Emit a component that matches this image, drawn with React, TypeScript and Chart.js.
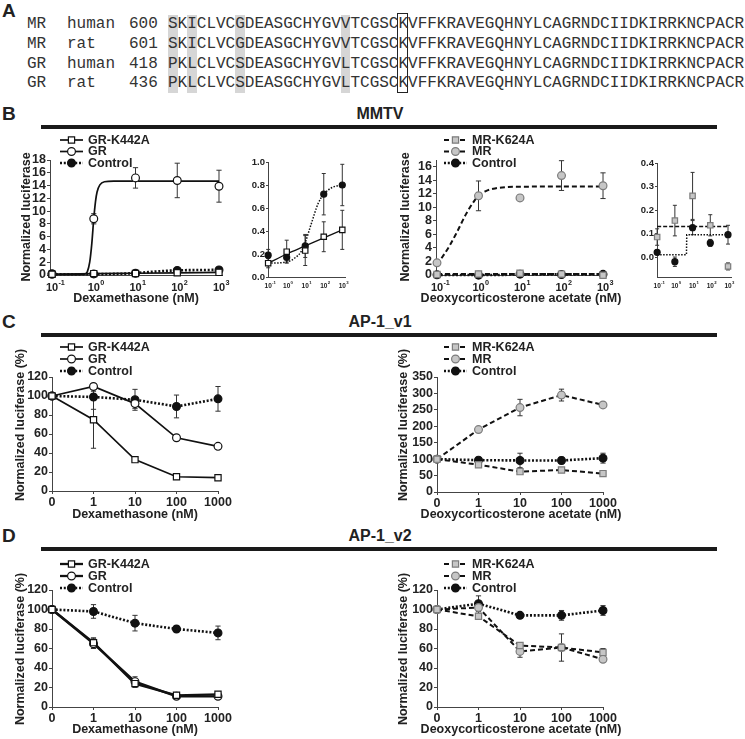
import React, { useEffect, useRef } from "react";
import { Chart, registerables } from "chart.js";
Chart.register(...registerables);

const W = 745;
const H = 739;
const SANS = "'Liberation Sans', Arial, Helvetica, sans-serif";
const MONO = "'Liberation Mono', 'Courier New', monospace";
const INK = "#222";

// ---------------- Panel A (sequence alignment) ----------------
const seqNames = ["MR", "MR", "GR", "GR"];
const seqSpecies = ["human", "rat", "human", "rat"];
const seqStarts = ["600", "601", "418", "436"];
const seqs = [
  "SKICLVCGDEASGCHYGVVTCGSCKVFFKRAVEGQHNYLCAGRNDCIIDKIRRKNCPACR",
  "SKICLVCGDEASGCHYGVVTCGSCKVFFKRAVEGQHNYLCAGRNDCIIDKIRRKNCPACR",
  "PKLCLVCSDEASGCHYGVLTCGSCKVFFKRAVEGQHNYLCAGRNDCIIDKIRRKNCPACR",
  "PKLCLVCSDEASGCHYGVLTCGSCKVFFKRAVEGQHNYLCAGRNDCIIDKIRRKNCPACR",
];
const shadedCols = [0, 2, 7, 18];
const boxedCol = 24;

// ---------------- Panel B (MMTV) ----------------
const bDoses = [0.1, 1, 10, 100, 1000];
const bLogExps = [-1, 0, 1, 2, 3];
const bGrK442A = [0.12, 0.22, 0.23, 0.35, 0.41];
const bGrK442AErr = [0.04, 0.1, 0.13, 0.13, 0.17];
const bGr = [0.1, 8.8, 15.2, 14.8, 13.9];
const bGrErr = [0.05, 0.8, 1.6, 2.7, 2.5];
const bGrCtrl = [0.19, 0.17, 0.27, 0.72, 0.8];
const bGrCtrlErr = [0.05, 0.04, 0.1, 0.18, 0.18];
// fitted curves
const bGrFitX = [0.1, 0.6, 0.7, 0.8, 0.9, 1.0, 1.1, 1.2, 1.4, 1.8, 3, 10, 100, 1000];
const bGrFitY = [0.1, 0.15, 0.5, 2, 5, 8.8, 11.5, 13, 14.1, 14.6, 14.7, 14.7, 14.7, 14.7];
const bGrK442AFitX = [0.1, 1, 10, 100, 1000];
const bGrK442AFitY = [0.12, 0.2, 0.27, 0.34, 0.41];
const bGrCtrlFitX = [0.1, 1, 3, 6, 10, 20, 50, 100, 300, 1000];
const bGrCtrlFitY = [0.12, 0.13, 0.17, 0.22, 0.3, 0.45, 0.64, 0.72, 0.78, 0.8];

const bMrK624A = [0.085, 0.155, 0.26, 0.135, -0.04];
const bMrK624AErr = [0.035, 0.065, 0.1, 0.045, 0.015];
const bMr = [1.8, 11.7, 11.4, 14.7, 13.2];
const bMrErr = [0.3, 2.2, 0.4, 2.2, 1.9];
const bMrCtrl = [0.02, -0.02, 0.125, 0.06, 0.095];
const bMrCtrlErr = [0.01, 0.02, 0.03, 0.015, 0.04];
const bMrFitX = [0.1, 0.2, 0.3, 0.5, 0.8, 1, 1.5, 2.5, 5, 10, 1000];
const bMrFitY = [1.5, 4.3, 6.3, 9, 11, 11.7, 12.4, 12.8, 13.0, 13.05, 13.1];
const bMrK624AFitX = [0.1, 1000];
const bMrK624AFitY = [0.13, 0.13];
const bMrCtrlFitX = [0.1, 4.5, 4.7, 1000];
const bMrCtrlFitY = [0.01, 0.01, 0.095, 0.095];

// ---------------- Panels C and D (AP-1) ----------------
const cdDoseLabels = ["0", "1", "10", "100", "1000"];
const c1GrK442A = [100, 75, 33, 15, 14];
const c1GrK442AErr = [0, 30, 2, 2, 1];
const c1Gr = [100, 110, 92, 56, 47];
const c1GrErr = [0, 3, 5, 2, 2];
const c1GrCtrl = [100, 99, 96, 89, 97];
const c1GrCtrlErr = [0, 13, 11, 12, 13];
const c1MrK624A = [100, 83, 62, 67, 56];
const c1MrK624AErr = [0, 4, 5, 4, 3];
const c1Mr = [100, 190, 257, 295, 265];
const c1MrErr = [0, 5, 25, 18, 5];
const c1MrCtrl = [100, 97, 96, 96, 103];
const c1MrCtrlErr = [0, 6, 22, 10, 15];

const c2GrK442A = [100, 66, 24, 12, 13];
const c2GrK442AErr = [0, 5, 4, 2, 2];
const c2Gr = [100, 65, 26, 11, 11];
const c2GrErr = [0, 5, 5, 2, 2];
const c2GrCtrl = [100, 98, 86, 80, 76];
const c2GrCtrlErr = [0, 7, 8, 2, 7];
const c2MrK624A = [100, 93, 63, 61, 56];
const c2MrK624AErr = [0, 3, 3, 14, 4];
const c2Mr = [100, 102, 57, 61, 49];
const c2MrErr = [0, 6, 6, 3, 2];
const c2MrCtrl = [100, 106, 94, 94, 99];
const c2MrCtrlErr = [0, 8, 2, 5, 5];

// tick values
const yTicks18 = [0, 2, 4, 6, 8, 10, 12, 14, 16, 18];
const yTicks16 = [0, 2, 4, 6, 8, 10, 12, 14, 16];
const yTicksInsetL = [0, 0.2, 0.4, 0.6, 0.8, 1.0];
const yTicksInsetR = [0, 0.1, 0.2, 0.3, 0.4];
const yTicks120 = [0, 20, 40, 60, 80, 100, 120];
const yTicks350 = [0, 50, 100, 150, 200, 250, 300, 350];

// ---------------- styles ----------------
type LineKind = "solid" | "dash" | "dot";
type Sty = { marker: "square" | "circle"; fill: string; border: string; line: LineKind };
const GRAY = "#c6c6c6";
const GRAYB = "#7c7c7c";
const S_GRK: Sty = { marker: "square", fill: "#fff", border: "#111", line: "solid" };
const S_GR: Sty = { marker: "circle", fill: "#fff", border: "#111", line: "solid" };
const S_CTRL: Sty = { marker: "circle", fill: "#111", border: "#111", line: "dot" };
const S_MRK: Sty = { marker: "square", fill: GRAY, border: GRAYB, line: "dash" };
const S_MR: Sty = { marker: "circle", fill: GRAY, border: GRAYB, line: "dash" };

type SeriesSpec = {
  label: string;
  sty: Sty;
  ys: number[];
  errs: number[];
  fitX?: number[];
  fitY?: number[];
  stepFit?: boolean;
};

type PanelSpec = {
  area: [number, number, number, number];
  xType: "log" | "cat";
  xMin?: number;
  xMax?: number;
  yMin: number;
  yMax: number;
  yTicks: number[];
  yDec: number;
  small: boolean;
  thick?: number;
  series: SeriesSpec[];
  legend?: { x: number; ys: number[] };
  xTitle?: { text: string; x: number; y: number };
  yTitle?: { text: string; x: number; y: number };
  logLabel?: { y: number; fs: number };
};

const lineStyle = (k: LineKind, small: boolean, thick?: number) => {
  if (k === "solid") return { borderDash: [] as number[], borderWidth: thick ?? (small ? 1.3 : 1.7) };
  if (k === "dash") return { borderDash: small ? [4, 2] : [5, 3], borderWidth: small ? 1.6 : 2 };
  return { borderDash: small ? [1.5, 1.5] : [2, 1.8], borderWidth: small ? 1.5 : 2.6 };
};

function drawMarker(ctx: CanvasRenderingContext2D, sty: Sty, x: number, y: number, r: number) {
  ctx.save();
  ctx.setLineDash([]);
  ctx.fillStyle = sty.fill;
  ctx.strokeStyle = sty.border;
  ctx.lineWidth = 1.2;
  ctx.beginPath();
  if (sty.marker === "circle") ctx.arc(x, y, r, 0, Math.PI * 2);
  else {
    const s = r * Math.SQRT1_2;
    ctx.rect(x - s, y - s, 2 * s, 2 * s);
  }
  ctx.fill();
  ctx.stroke();
  ctx.restore();
}

const LEFT_LEG = 60;
const RIGHT_LEG = 444;

const panels: PanelSpec[] = [
  {
    area: [50, 160, 222, 275],
    xType: "log",
    xMin: 0.0895,
    xMax: 1180,
    yMin: 0,
    yMax: 18,
    yTicks: yTicks18,
    yDec: 0,
    small: false,
    series: [
      { label: "GR-K442A", sty: S_GRK, ys: bGrK442A, errs: bGrK442AErr, fitX: bGrK442AFitX, fitY: bGrK442AFitY },
      { label: "GR", sty: S_GR, ys: bGr, errs: bGrErr, fitX: bGrFitX, fitY: bGrFitY },
      { label: "Control", sty: S_CTRL, ys: bGrCtrl, errs: bGrCtrlErr, fitX: bGrCtrlFitX, fitY: bGrCtrlFitY },
    ],
    legend: { x: LEFT_LEG, ys: [140, 151.5, 163] },
    xTitle: { text: "Dexamethasone (nM)", x: 136, y: 299 },
    yTitle: { text: "Normalized luciferase", x: 27, y: 217 },
    logLabel: { y: 288, fs: 11 },
  },
  {
    area: [268, 162, 345, 277],
    xType: "log",
    xMin: 0.098,
    xMax: 1400,
    yMin: 0,
    yMax: 1.0,
    yTicks: yTicksInsetL,
    yDec: 1,
    small: true,
    series: [
      { label: "GR-K442A", sty: S_GRK, ys: bGrK442A, errs: bGrK442AErr, fitX: bGrK442AFitX, fitY: bGrK442AFitY },
      { label: "Control", sty: S_CTRL, ys: bGrCtrl, errs: bGrCtrlErr, fitX: bGrCtrlFitX, fitY: bGrCtrlFitY },
    ],
    logLabel: { y: 286, fs: 6.5 },
  },
  {
    area: [436, 160, 606, 275],
    xType: "log",
    xMin: 0.0946,
    xMax: 1180,
    yMin: 0,
    yMax: 17,
    yTicks: yTicks16,
    yDec: 0,
    small: false,
    series: [
      { label: "MR-K624A", sty: S_MRK, ys: bMrK624A, errs: bMrK624AErr, fitX: bMrK624AFitX, fitY: bMrK624AFitY },
      { label: "MR", sty: S_MR, ys: bMr, errs: bMrErr, fitX: bMrFitX, fitY: bMrFitY },
      { label: "Control", sty: S_CTRL, ys: bMrCtrl, errs: bMrCtrlErr, fitX: bMrCtrlFitX, fitY: bMrCtrlFitY, stepFit: true },
    ],
    legend: { x: RIGHT_LEG, ys: [140, 151.5, 163] },
    xTitle: { text: "Deoxycorticosterone acetate (nM)", x: 521, y: 299 },
    yTitle: { text: "Normalized luciferase", x: 406, y: 217 },
    logLabel: { y: 288, fs: 11 },
  },
  {
    area: [657, 163, 731, 277],
    xType: "log",
    xMin: 0.098,
    xMax: 1475,
    yMin: -0.085,
    yMax: 0.4,
    yTicks: yTicksInsetR,
    yDec: 1,
    small: true,
    series: [
      { label: "MR-K624A", sty: S_MRK, ys: bMrK624A, errs: bMrK624AErr, fitX: bMrK624AFitX, fitY: bMrK624AFitY },
      { label: "Control", sty: S_CTRL, ys: bMrCtrl, errs: bMrCtrlErr, fitX: bMrCtrlFitX, fitY: bMrCtrlFitY, stepFit: true },
    ],
    logLabel: { y: 286, fs: 6.5 },
  },
  {
    area: [52, 377, 218, 491],
    xType: "cat",
    yMin: 0,
    yMax: 120,
    yTicks: yTicks120,
    yDec: 0,
    small: false,
    series: [
      { label: "GR-K442A", sty: S_GRK, ys: c1GrK442A, errs: c1GrK442AErr },
      { label: "GR", sty: S_GR, ys: c1Gr, errs: c1GrErr },
      { label: "Control", sty: S_CTRL, ys: c1GrCtrl, errs: c1GrCtrlErr },
    ],
    legend: { x: LEFT_LEG, ys: [347, 359, 371] },
    xTitle: { text: "Dexamethasone (nM)", x: 135, y: 515 },
    yTitle: { text: "Normalized luciferase (%)", x: 21, y: 425 },
  },
  {
    area: [437, 377, 603, 492],
    xType: "cat",
    yMin: 0,
    yMax: 350,
    yTicks: yTicks350,
    yDec: 0,
    small: false,
    series: [
      { label: "MR-K624A", sty: S_MRK, ys: c1MrK624A, errs: c1MrK624AErr },
      { label: "MR", sty: S_MR, ys: c1Mr, errs: c1MrErr },
      { label: "Control", sty: S_CTRL, ys: c1MrCtrl, errs: c1MrCtrlErr },
    ],
    legend: { x: RIGHT_LEG, ys: [347, 359, 371] },
    xTitle: { text: "Deoxycorticosterone acetate (nM)", x: 521, y: 515 },
    yTitle: { text: "Normalized luciferase (%)", x: 404, y: 425 },
  },
  {
    area: [52, 590, 218, 707],
    xType: "cat",
    yMin: 0,
    yMax: 120,
    yTicks: yTicks120,
    yDec: 0,
    small: false,
    thick: 2.3,
    series: [
      { label: "GR-K442A", sty: S_GRK, ys: c2GrK442A, errs: c2GrK442AErr },
      { label: "GR", sty: S_GR, ys: c2Gr, errs: c2GrErr },
      { label: "Control", sty: S_CTRL, ys: c2GrCtrl, errs: c2GrCtrlErr },
    ],
    legend: { x: LEFT_LEG, ys: [564, 576, 588] },
    xTitle: { text: "Dexamethasone (nM)", x: 135, y: 730 },
    yTitle: { text: "Normalized luciferase (%)", x: 21, y: 649 },
  },
  {
    area: [437, 590, 603, 707],
    xType: "cat",
    yMin: 0,
    yMax: 120,
    yTicks: yTicks120,
    yDec: 0,
    small: false,
    series: [
      { label: "MR-K624A", sty: S_MRK, ys: c2MrK624A, errs: c2MrK624AErr },
      { label: "MR", sty: S_MR, ys: c2Mr, errs: c2MrErr },
      { label: "Control", sty: S_CTRL, ys: c2MrCtrl, errs: c2MrCtrlErr },
    ],
    legend: { x: RIGHT_LEG, ys: [564, 576, 588] },
    xTitle: { text: "Deoxycorticosterone acetate (nM)", x: 521, y: 730 },
    yTitle: { text: "Normalized luciferase (%)", x: 404, y: 649 },
  },
];

function markerRadius(sty: Sty, small: boolean) {
  if (sty.marker === "square") return small ? 3.8 : 4.4;
  return small ? 3.0 : 3.9;
}

function overlayPlugin(spec: PanelSpec, id: number) {
  return {
    id: "overlay" + id,
    beforeDatasetsDraw(chart: any) {
      const ctx: CanvasRenderingContext2D = chart.ctx;
      const ys = chart.scales.y;
      const cap = spec.small ? 2 : 2.6;
      ctx.save();
      ctx.strokeStyle = "#333";
      ctx.lineWidth = 1;
      ctx.setLineDash([]);
      chart.data.datasets.forEach((ds: any, di: number) => {
        if (!ds.errs) return;
        const meta = chart.getDatasetMeta(di);
        meta.data.forEach((el: any, j: number) => {
          const e = ds.errs[j];
          if (!e) return;
          const v = ds.vals[j];
          const y1 = ys.getPixelForValue(v + e);
          const y2 = ys.getPixelForValue(v - e);
          const x = el.x;
          ctx.beginPath();
          ctx.moveTo(x, y1);
          ctx.lineTo(x, y2);
          ctx.moveTo(x - cap, y1);
          ctx.lineTo(x + cap, y1);
          ctx.moveTo(x - cap, y2);
          ctx.lineTo(x + cap, y2);
          ctx.stroke();
        });
      });
      ctx.restore();
    },
    afterDraw(chart: any) {
      const ctx: CanvasRenderingContext2D = chart.ctx;
      ctx.save();
      ctx.fillStyle = INK;
      // log tick labels 10^n
      if (spec.logLabel) {
        const xs = chart.scales.x;
        const fs = spec.logLabel.fs;
        ctx.textBaseline = "middle";
        bLogExps.forEach((e) => {
          const px = xs.getPixelForValue(Math.pow(10, e));
          ctx.font = `bold ${fs}px ${SANS}`;
          ctx.textAlign = "center";
          ctx.fillText("10", px, spec.logLabel!.y);
          const w = ctx.measureText("10").width;
          ctx.font = `bold ${fs * 0.66}px ${SANS}`;
          ctx.textAlign = "left";
          ctx.fillText(String(e), px + w / 2 + 0.3, spec.logLabel!.y - fs * 0.45);
        });
      }
      // axis titles
      ctx.font = `bold 12.5px ${SANS}`;
      ctx.textBaseline = "middle";
      ctx.textAlign = "center";
      if (spec.xTitle) ctx.fillText(spec.xTitle.text, spec.xTitle.x, spec.xTitle.y);
      if (spec.yTitle) {
        ctx.save();
        ctx.translate(spec.yTitle.x, spec.yTitle.y);
        ctx.rotate(-Math.PI / 2);
        ctx.fillText(spec.yTitle.text, 0, 0);
        ctx.restore();
      }
      // legend
      if (spec.legend) {
        const lg = spec.legend;
        spec.series.forEach((s, i) => {
          const y = lg.ys[i];
          const ls = lineStyle(s.sty.line, false, spec.thick);
          ctx.save();
          ctx.strokeStyle = "#111";
          ctx.lineWidth = ls.borderWidth;
          ctx.setLineDash(ls.borderDash);
          ctx.beginPath();
          ctx.moveTo(lg.x, y);
          ctx.lineTo(lg.x + 23, y);
          ctx.stroke();
          ctx.restore();
          drawMarker(ctx, s.sty, lg.x + 11.5, y, markerRadius(s.sty, false));
          ctx.fillStyle = INK;
          ctx.font = `bold 12.5px ${SANS}`;
          ctx.textAlign = "left";
          ctx.textBaseline = "middle";
          ctx.fillText(s.label, lg.x + 28, y + 0.5);
        });
      }
      ctx.restore();
    },
  };
}

function buildChart(canvas: HTMLCanvasElement, spec: PanelSpec, id: number) {
  const [l, t, r, b] = spec.area;
  const isLog = spec.xType === "log";
  const YW = spec.small ? 28 : 40;
  const XH = isLog ? 0 : 24;
  const datasets: any[] = [];
  spec.series.forEach((s, i) => {
    const rr = markerRadius(s.sty, spec.small);
    datasets.push({
      label: s.label,
      data: s.ys.map((y, k) => (isLog ? { x: bDoses[k], y } : y)),
      vals: s.ys,
      errs: s.errs,
      showLine: !isLog,
      ...lineStyle(s.sty.line, spec.small, spec.thick),
      borderColor: "#111",
      borderCapStyle: "butt",
      pointStyle: s.sty.marker === "square" ? "rect" : "circle",
      pointRadius: rr,
      pointHoverRadius: rr,
      pointBackgroundColor: s.sty.fill,
      pointBorderColor: s.sty.border,
      pointBorderWidth: 1.2,
      tension: 0,
      clip: false,
      order: i,
    });
  });
  spec.series.forEach((s, i) => {
    if (!s.fitX || !s.fitY) return;
    const fy = s.fitY;
    datasets.push({
      label: s.label + " fit",
      data: s.fitX.map((x, k) => ({ x, y: fy[k] })),
      showLine: true,
      ...lineStyle(s.sty.line, spec.small, spec.thick),
      borderColor: "#111",
      pointRadius: 0,
      pointHoverRadius: 0,
      cubicInterpolationMode: s.stepFit || s.fitX.length < 3 ? "default" : "monotone",
      tension: 0,
      clip: false,
      order: 10 + i,
    });
  });

  const tickFont = { family: SANS, weight: "bold" as const, size: spec.small ? 9.5 : 12.5 };
  const axisColor = "#444";

  const xScale: any = isLog
    ? {
        type: "logarithmic",
        min: spec.xMin,
        max: spec.xMax,
        afterBuildTicks: (s: any) => {
          s.ticks = bDoses.map((v) => ({ value: v }));
        },
        afterFit: (s: any) => {
          s.height = XH;
        },
        ticks: { display: false },
        grid: { display: false },
        border: { display: true, color: axisColor, width: 1 },
      }
    : {
        type: "category",
        offset: false,
        afterFit: (s: any) => {
          s.height = XH;
        },
        ticks: { font: tickFont, color: INK, padding: 1, maxRotation: 0, autoSkip: false },
        grid: { display: true, drawOnChartArea: false, drawTicks: true, tickLength: 3, color: axisColor, offset: false },
        border: { display: true, color: axisColor, width: 1 },
      };

  const config: any = {
    type: "line",
    data: { labels: isLog ? undefined : cdDoseLabels, datasets },
    options: {
      responsive: false,
      maintainAspectRatio: false,
      animation: false,
      events: [],
      devicePixelRatio: 1,
      layout: { padding: { left: l - YW, top: t, right: W - r, bottom: H - b - XH } },
      plugins: { legend: { display: false }, tooltip: { enabled: false }, title: { display: false } },
      scales: {
        x: xScale,
        y: {
          type: "linear",
          min: spec.yMin,
          max: spec.yMax,
          afterBuildTicks: (s: any) => {
            s.ticks = spec.yTicks.map((v) => ({ value: v }));
          },
          afterFit: (s: any) => {
            s.width = YW;
          },
          ticks: {
            font: tickFont,
            color: INK,
            padding: 1,
            autoSkip: false,
            callback: (v: any) => Number(v).toFixed(spec.yDec),
          },
          grid: { display: true, drawOnChartArea: false, drawTicks: true, tickLength: spec.small ? 2 : 3, color: axisColor },
          border: { display: true, color: axisColor, width: 1 },
        },
      },
    },
    plugins: [overlayPlugin(spec, id)],
  };
  return new Chart(canvas, config);
}

// ---------------- layout constants for HTML overlays ----------------
const CW = 9.6;
const SEQ_X = 168;
const rowCenters = [24, 44, 64, 83];
const bars = [125, 333, 547];
const panelLetters = ["B", "C", "D"];
const panelTitles = ["MMTV", "AP-1_v1", "AP-1_v2"];

export default function App() {
  const refs = useRef<(HTMLCanvasElement | null)[]>([]);
  useEffect(() => {
    const charts = panels.map((p, i) => buildChart(refs.current[i] as HTMLCanvasElement, p, i));
    return () => charts.forEach((c) => c.destroy());
  }, []);

  const abs = (o: React.CSSProperties): React.CSSProperties => ({ position: "absolute", ...o });

  return (
    <div style={{ position: "fixed", left: 0, top: 0, width: W, height: H, background: "#fff", overflow: "hidden" }}>
      {/* Panel A */}
      <div style={abs({ left: 2, top: 1, font: `bold 19px/19px ${SANS}`, color: INK })}>A</div>
      {shadedCols.map((c) => (
        <div key={"sh" + c} style={abs({ left: SEQ_X + c * CW, top: 15, width: CW, height: 78, background: "#d6d6d6" })} />
      ))}
      <div
        style={abs({
          left: SEQ_X + boxedCol * CW - 1,
          top: 13,
          width: CW + 1,
          height: 80,
          border: "1.3px solid #222",
          boxSizing: "border-box",
        })}
      />
      {seqs.map((seq, rI) => {
        const top = rowCenters[rI] - 9.5;
        const st: React.CSSProperties = { font: `16px/19px ${MONO}`, color: "#333", whiteSpace: "pre" };
        return (
          <React.Fragment key={"row" + rI}>
            <div style={abs({ left: 27, top, ...st })}>{seqNames[rI]}</div>
            <div style={abs({ left: 67, top, ...st })}>{seqSpecies[rI]}</div>
            <div style={abs({ left: 129, top, ...st })}>{seqStarts[rI]}</div>
            <div style={abs({ left: SEQ_X, top, ...st })}>{seq}</div>
          </React.Fragment>
        );
      })}

      {/* Panel letters, titles and bars */}
      {bars.map((by, i) => (
        <React.Fragment key={"bar" + i}>
          <div style={abs({ left: 41, top: by, width: 676, height: 4, background: "#1a1a1a" })} />
          <div style={abs({ left: 2, top: by - 21, font: `bold 19px/19px ${SANS}`, color: INK })}>{panelLetters[i]}</div>
          <div
            style={abs({
              left: 280,
              width: 200,
              textAlign: "center",
              top: by - 19,
              font: `bold 16px/16px ${SANS}`,
              color: INK,
            })}
          >
            {panelTitles[i]}
          </div>
        </React.Fragment>
      ))}

      {panels.map((_, i) => (
        <canvas
          key={"cv" + i}
          ref={(el) => {
            refs.current[i] = el;
          }}
          width={W}
          height={H}
          style={{ position: "absolute", left: 0, top: 0, width: W, height: H }}
        />
      ))}
    </div>
  );
}
